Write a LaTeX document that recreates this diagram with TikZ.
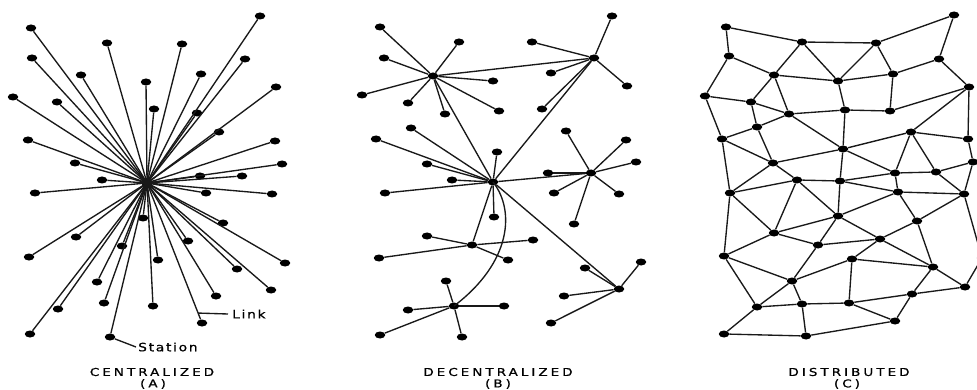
\documentclass[tikz,border=0pt]{standalone}
\usepackage{fontspec}
\usetikzlibrary{shapes.geometric,calc}
\newfontfamily\ttlfont[LetterSpace=28,FakeStretch=1.25,FakeBold=0.8]{DejaVu Sans}
\newfontfamily\lblfont[LetterSpace=15,FakeStretch=1.2,FakeBold=0.8]{DejaVu Sans}
\tikzset{
  st/.style={ellipse, fill=black, draw=none, minimum width=10.5pt, minimum height=7pt, inner sep=0pt},
  lk/.style={line width=1.35pt, draw=black!90},
  ttl/.style={font=\ttlfont\fontsize{10.8}{12}\selectfont, inner sep=0pt, text=black},
  lbl/.style={font=\lblfont\fontsize{11.5}{13}\selectfont, inner sep=0pt, anchor=west, text=black}
}
\begin{document}
\begin{tikzpicture}[x=1pt,y=-1pt]
\useasboundingbox[fill=white] (0,0) rectangle (977,390);
% ---------------- Panel A: centralized
\node[st, minimum width=11pt, minimum height=10pt] (ac) at (147,183) {};
\foreach \x/\y [count=\i] in {31/28,107/43,32/58,81/75,146/82,13/97,57/102,154/109,28/140,75/163,
  102/180,260/16,182/44,245/59,201/74,276/87,197/113,219/132,275/141,282/164,
  200/176,242/176,35/193,143/218,76/237,122/246,29/257,158/260,97/282,104/303,
  153/306,58/309,30/334,110/337,206/193,272/194,223/223,188/241,285/263,237/269,
  271/290,216/296,202/323}
  \node[st] (a\i) at (\x,\y) {};
\foreach \i in {1,...,43} \draw[lk] (ac.center) -- (a\i);
\coordinate (sp) at (136,347);
\draw[lk] (a34) -- (sp);
\node[lbl] (station) at (138,347) {Station};
\coordinate (lk1) at ($(ac)!0.929!(a43)$);
\coordinate (lk2) at (228,314);
\draw[lk] (lk1) -- (lk2);
\node[lbl] (link) at (232,314) {Link};
\node[ttl] (ta) at (152,372) {CENTRALIZED};
\node[ttl] (tas) at (153,384) {(A)};
% ---------------- Panel B: decentralized
\node[st] (h1) at (433,76) {};
\node[st] (h2) at (493,182) {};
\node[st] (h3) at (594,58) {};
\node[st] (h4) at (591,173) {};
\node[st] (h5) at (472,245) {};
\node[st] (h6) at (454,306) {};
\node[st] (h7) at (619,289) {};
\foreach \x/\y [count=\i] in {380/27,459/42,384/58,493/81,362/95,408/103,499/111,445/114}
  {\node[st] (b1l\i) at (\x,\y) {}; \draw[lk] (h1) -- (b1l\i);}
\foreach \x/\y [count=\i] in {411/128,376/139,497/152,427/164,452/180,385/193,494/217}
  {\node[st] (b2l\i) at (\x,\y) {}; \draw[lk] (h2) -- (b2l\i);}
\foreach \x/\y [count=\i] in {612/16,532/42,551/73,627/86,542/109}
  {\node[st] (b3l\i) at (\x,\y) {}; \draw[lk] (h3) -- (b3l\i);}
\foreach \x/\y [count=\i] in {566/131,626/140,636/162,548/173,554/193,619/194,574/224}
  {\node[st] (b4l\i) at (\x,\y) {}; \draw[lk] (h4) -- (b4l\i);}
\foreach \x/\y [count=\i] in {427/236,379/258,533/240,508/260}
  {\node[st] (b5l\i) at (\x,\y) {}; \draw[lk] (h5) -- (b5l\i);}
\foreach \x/\y [count=\i] in {446/281,408/310,380/335,462/337,504/306}
  {\node[st] (b6l\i) at (\x,\y) {}; \draw[lk] (h6) -- (b6l\i);}
\foreach \x/\y [count=\i] in {585/268,641/262,564/296,551/323}
  {\node[st] (b7l\i) at (\x,\y) {}; \draw[lk] (h7) -- (b7l\i);}
\foreach \u/\v in {h1/h2,h1/h3,h2/h3,h2/h4,h2/h5,h2/h7}
  \draw[lk] (\u) -- (\v);
\draw[lk] (h2.center) .. controls (515,210) and (512,262) .. (h6.center);
\node[ttl] (tb) at (498,372) {DECENTRALIZED};
\node[ttl] (tbs) at (498,384) {(B)};
% ---------------- Panel C: distributed
\foreach \x/\y [count=\i] in {726/27,802/42,729/56,774/75,838/81,705/96,751/102,789/114,757/127,722/139,
  773/163,797/180,954/15,876/43,939/59,893/74,969/87,845/110,890/111,911/132,
  968/139,843/149,973/162,895/173,936/172,840/181,730/193,838/216,774/233,818/245,
  724/256,792/281,757/307,802/304,724/334,806/336,898/192,964/194,917/221,880/239,
  852/259,933/267,965/287,912/294,849/303,895/321,982/258}
  \node[st] (c\i) at (\x,\y) {};
\foreach \u/\v in {c1/c2,c1/c3,c2/c4,c2/c5,c2/c14,c3/c4,c3/c6,c4/c5,c4/c7,c4/c8,
  c6/c7,c6/c10,c7/c8,c7/c9,c8/c9,c8/c18,c8/c22,c9/c10,c9/c11,c10/c11,c10/c27,
  c11/c12,c11/c22,c11/c27,c12/c26,c12/c29,c12/c28,c12/c27,
  c14/c16,c14/c5,c14/c13,c13/c15,c15/c16,c15/c17,c16/c5,c16/c19,c5/c18,c18/c19,
  c18/c22,c19/c17,c17/c20,c17/c21,c20/c21,c20/c22,c20/c24,c20/c25,c21/c23,c23/c25,
  c23/c38,c22/c24,c22/c26,c24/c26,c24/c37,c25/c38,
  c27/c29,c27/c31,c29/c28,c29/c30,c28/c30,c26/c28,c30/c32,c30/c40,c31/c29,c31/c32,
  c31/c33,c32/c33,c32/c34,c32/c41,c33/c34,c33/c35,c34/c36,c34/c45,c35/c36,c36/c46,
  c26/c37,c24/c25,c37/c38,c37/c28,c37/c39,c38/c39,c38/c47,c28/c40,c39/c40,c39/c42,
  c40/c41,c40/c42,c41/c45,c41/c42,c42/c43,c44/c42,c44/c46,c45/c46,c45/c44,c44/c43,c43/c47}
  \draw[lk] (\u) -- (\v);
\node[ttl] (tc) at (849,372) {DISTRIBUTED};
\node[ttl] (tcs) at (847,384) {(C)};
\end{tikzpicture}
\end{document}
